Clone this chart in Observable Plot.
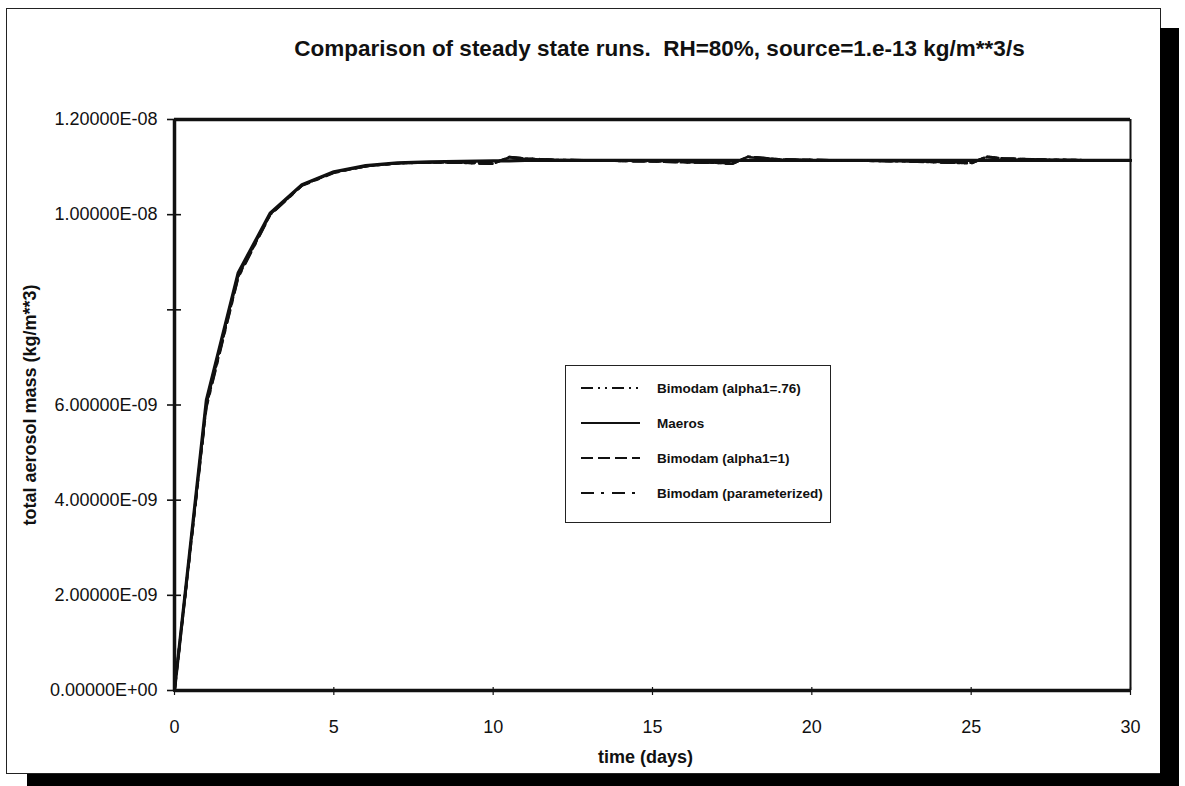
<!DOCTYPE html>
<html><head><meta charset="utf-8">
<script src="https://cdn.jsdelivr.net/npm/d3@7"></script>
<script src="https://cdn.jsdelivr.net/npm/@observablehq/plot@0.6"></script>
<style>
body{margin:0;background:#fff;}
#wrap{position:relative;width:1185px;height:786px;overflow:hidden;background:#fff;font-family:"Liberation Sans",Arial,sans-serif;}
#frame{position:absolute;left:6px;top:8px;width:1155px;height:766px;border:1.5px solid #222;box-sizing:border-box;}
#shadowR{position:absolute;left:1160px;top:28px;width:19px;height:758px;background:#000;}
#shadowB{position:absolute;left:27px;top:774px;width:1152px;height:12px;background:#000;}
#chart{position:absolute;left:0;top:0;}
#legend{position:absolute;left:565px;top:365px;width:266px;height:158px;border:1.5px solid #222;box-sizing:border-box;background:#fff;}
</style></head>
<body>
<div id="wrap">
  <div id="frame"></div>
  <div id="shadowR"></div>
  <div id="shadowB"></div>
  <div id="chart"></div>
  <div id="legend"></div>
</div>
<script>
// ---- data ----
const chartTitle = "Comparison of steady state runs.  RH=80%, source=1.e-13 kg/m**3/s";
const xTitle = "time (days)";
const yTitle = "total aerosol mass (kg/m**3)";
const seriesNames = ["Bimodam (alpha1=.76)", "Maeros", "Bimodam (alpha1=1)", "Bimodam (parameterized)"];
const time = [0,1,2,3,4,5,6,7,8,9,10,10.5,11,12,13,14,15,16,17,17.5,18,18.5,19,20,21,22,23,24,25,25.5,26,27,28,29,30];
const maeros = [0,6.10e-9,8.78e-9,10.03e-9,10.63e-9,10.90e-9,11.03e-9,11.09e-9,11.11e-9,11.12e-9,11.13e-9,11.13e-9,11.14e-9,11.14e-9,11.14e-9,11.14e-9,11.14e-9,11.14e-9,11.14e-9,11.14e-9,11.14e-9,11.14e-9,11.14e-9,11.14e-9,11.14e-9,11.14e-9,11.14e-9,11.14e-9,11.14e-9,11.14e-9,11.14e-9,11.14e-9,11.14e-9,11.14e-9,11.14e-9];
const bimodam076 = [0,5.98e-9,8.70e-9,10.00e-9,10.62e-9,10.89e-9,11.02e-9,11.08e-9,11.10e-9,11.09e-9,11.07e-9,11.21e-9,11.18e-9,11.15e-9,11.14e-9,11.13e-9,11.12e-9,11.10e-9,11.09e-9,11.07e-9,11.22e-9,11.19e-9,11.16e-9,11.15e-9,11.14e-9,11.13e-9,11.12e-9,11.10e-9,11.08e-9,11.22e-9,11.18e-9,11.16e-9,11.15e-9,11.14e-9,11.14e-9];
const bimodam1 = [0,6.02e-9,8.73e-9,10.01e-9,10.62e-9,10.89e-9,11.02e-9,11.08e-9,11.10e-9,11.10e-9,11.08e-9,11.20e-9,11.17e-9,11.15e-9,11.14e-9,11.13e-9,11.12e-9,11.11e-9,11.09e-9,11.08e-9,11.21e-9,11.18e-9,11.16e-9,11.15e-9,11.14e-9,11.13e-9,11.12e-9,11.11e-9,11.09e-9,11.21e-9,11.18e-9,11.16e-9,11.15e-9,11.14e-9,11.14e-9];
const bimodamParam = [0,5.95e-9,8.68e-9,9.99e-9,10.61e-9,10.88e-9,11.02e-9,11.08e-9,11.10e-9,11.09e-9,11.07e-9,11.21e-9,11.18e-9,11.15e-9,11.14e-9,11.13e-9,11.12e-9,11.10e-9,11.09e-9,11.07e-9,11.22e-9,11.19e-9,11.16e-9,11.15e-9,11.14e-9,11.13e-9,11.12e-9,11.10e-9,11.08e-9,11.22e-9,11.18e-9,11.16e-9,11.15e-9,11.14e-9,11.14e-9];
const seriesValues = [bimodam076, maeros, bimodam1, bimodamParam];
const seriesDash = ["12,5,2,5,2,5", null, "12,5", "13,7,3,8"];
const yTicks = [0, 2e-9, 4e-9, 6e-9, 8e-9, 1e-8, 1.2e-8];
const yTickLabels = ["0.00000E+00","2.00000E-09","4.00000E-09","6.00000E-09","","1.00000E-08","1.20000E-08"];
const xTicks = [0,5,10,15,20,25,30];
const xTickLabels = ["0","5","10","15","20","25","30"];

// ---- build ----
const W = 1185, H = 786, mL = 174, mR = 55, mT = 119, mB = 96;
const pw = W - mL - mR, ph = H - mT - mB;
const lineMarks = seriesNames.map((name, s) => {
  const rows = time.map((t, i) => ({t, v: seriesValues[s][i]}));
  return Plot.line(rows, {x: "t", y: "v", stroke: "#111", strokeWidth: s === 1 ? 3.2 : 2.6,
    strokeDasharray: seriesDash[s] || undefined, curve: "linear"});
});

const plot = Plot.plot({
  width: W, height: H,
  marginLeft: mL, marginRight: mR, marginTop: mT, marginBottom: mB,
  style: {fontFamily: "'Liberation Sans', Arial, sans-serif", fontSize: "18px", background: "transparent", color: "#111", overflow: "visible"},
  x: {domain: [0, 30]},
  y: {domain: [0, 1.2e-8]},
  marks: [
    Plot.axisX(xTicks, {tickSize: 0, tickPadding: 30, label: null, fontSize: 18, stroke: "#111", strokeWidth: 0.4, tickFormat: d => xTickLabels[xTicks.indexOf(d)]}),
    Plot.axisY(yTicks, {tickSize: 0, tickPadding: 17, label: null, fontSize: 18, stroke: "#111", strokeWidth: 0.4, tickFormat: d => yTickLabels[yTicks.indexOf(d)]}),
    Plot.ruleY(yTicks, {y: d => d, insetLeft: -7, insetRight: pw - 7, strokeWidth: 1.6, stroke: "#111"}),
    Plot.ruleX(xTicks, {x: d => d, insetTop: ph - 3, insetBottom: -5, strokeWidth: 1.2, stroke: "#111"}),
    ...lineMarks,
    Plot.ruleY([0], {strokeWidth: 3.5, stroke: "#111"}),
    Plot.ruleY([1.2e-8], {strokeWidth: 3.5, stroke: "#111"}),
    Plot.ruleX([0], {strokeWidth: 3.5, stroke: "#111"}),
    Plot.ruleX([30], {strokeWidth: 2, stroke: "#111"}),
    Plot.text([chartTitle], {text: d => d, frameAnchor: "top", lineAnchor: "middle", textAnchor: "middle", dy: -71, dx: 7, fontSize: 22.5, fontWeight: "bold", fill: "#111"}),
    Plot.text([xTitle], {text: d => d, frameAnchor: "bottom", lineAnchor: "middle", textAnchor: "middle", dy: 67, dx: -7, fontSize: 18, fontWeight: "bold", fill: "#111"}),
    Plot.text([yTitle], {text: d => d, frameAnchor: "left", lineAnchor: "middle", textAnchor: "middle", dx: -144, rotate: -90, fontSize: 18, fontWeight: "bold", fill: "#111"})
  ]
});
document.getElementById("chart").appendChild(plot);

// ---- legend ----
const leg = d3.select("#legend").append("svg").attr("width", 263).attr("height", 155);
seriesNames.forEach((name, i) => {
  const y = 22 + i * 35;
  leg.append("line").attr("x1", 15).attr("x2", 74).attr("y1", y).attr("y2", y)
    .attr("stroke", "#111").attr("stroke-width", 2.2)
    .attr("stroke-dasharray", seriesDash[i] || null);
  leg.append("text").attr("x", 91).attr("y", y).attr("dy", "0.35em")
    .attr("font-family", "'Liberation Sans', Arial, sans-serif").attr("font-size", 13.5)
    .attr("font-weight", "bold").attr("fill", "#111").text(name);
});
</script>
</body></html>
